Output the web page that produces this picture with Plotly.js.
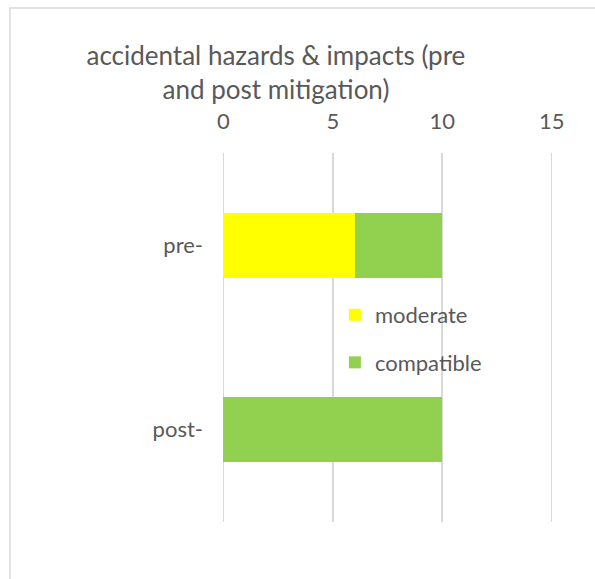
<!DOCTYPE html>
<html>
<head>
<meta charset="utf-8">
<script src="https://cdn.plot.ly/plotly-3.0.1.min.js"></script>
<style>html,body{margin:0;padding:0;background:#fff;}#chart{width:595px;height:579px;}</style>
</head>
<body>
<div id="chart"></div>
<script>
const categories = ['pre-', 'post-'];
const moderate = [6, 0];
const compatible = [4, 10];
const xTicks = [0, 5, 10, 15];

const FONT = 'Lato, "Open Sans", sans-serif';
const TXT = '#595959';

const traces = [
  {type: 'bar', orientation: 'h', name: 'moderate', y: categories, x: moderate,
   marker: {color: '#FFFF00'}, legendgroup: 'a', hoverinfo: 'x+name'},
  {type: 'bar', orientation: 'h', name: 'compatible', y: categories, x: compatible,
   marker: {color: '#92D050'}, legendgroup: 'b', hoverinfo: 'x+name'}
];

const layout = {
  width: 595, height: 579,
  margin: {l: 220, r: 40, t: 153, b: 57},
  paper_bgcolor: '#ffffff', plot_bgcolor: '#ffffff',
  font: {family: FONT, color: TXT, size: 22},
  barmode: 'stack', bargap: 0.65,
  title: {
    text: 'accidental hazards &amp; impacts (pre<br>and post mitigation)',
    font: {family: FONT, size: 26, color: TXT},
    x: 0.167, xref: 'paper', xanchor: 'center',
    y: 0.887, yref: 'container', yanchor: 'middle'
  },
  xaxis: {
    side: 'top', range: [-0.15, 15.15], tickvals: xTicks, ticktext: xTicks.map(String),
    showgrid: true, gridcolor: '#d9d9d9', gridwidth: 1.5,
    zeroline: false, showline: false, ticks: '', ticklabelstandoff: 19,
    tickfont: {family: FONT, size: 22, color: TXT}, fixedrange: true
  },
  yaxis: {
    type: 'category', autorange: 'reversed', showgrid: false, zeroline: false,
    showline: false, ticks: '', ticklabelstandoff: 16,
    tickfont: {family: FONT, size: 22, color: TXT}, fixedrange: true
  },
  legend: {
    x: 0.343, y: 0.618, xanchor: 'left', yanchor: 'top',
    bgcolor: 'rgba(0,0,0,0)', traceorder: 'grouped', tracegroupgap: 16,
    font: {family: FONT, size: 22, color: TXT}
  },
  shapes: [{
    type: 'rect', xref: 'paper', yref: 'paper',
    x0: -0.627, x1: 1.4, y0: -0.3, y1: 1.393,
    line: {color: '#d9d9d9', width: 1.5}, fillcolor: 'rgba(0,0,0,0)', layer: 'below'
  }],
  showlegend: true
};

Plotly.newPlot('chart', traces, layout, {displayModeBar: false, staticPlot: true});
</script>
</body>
</html>
